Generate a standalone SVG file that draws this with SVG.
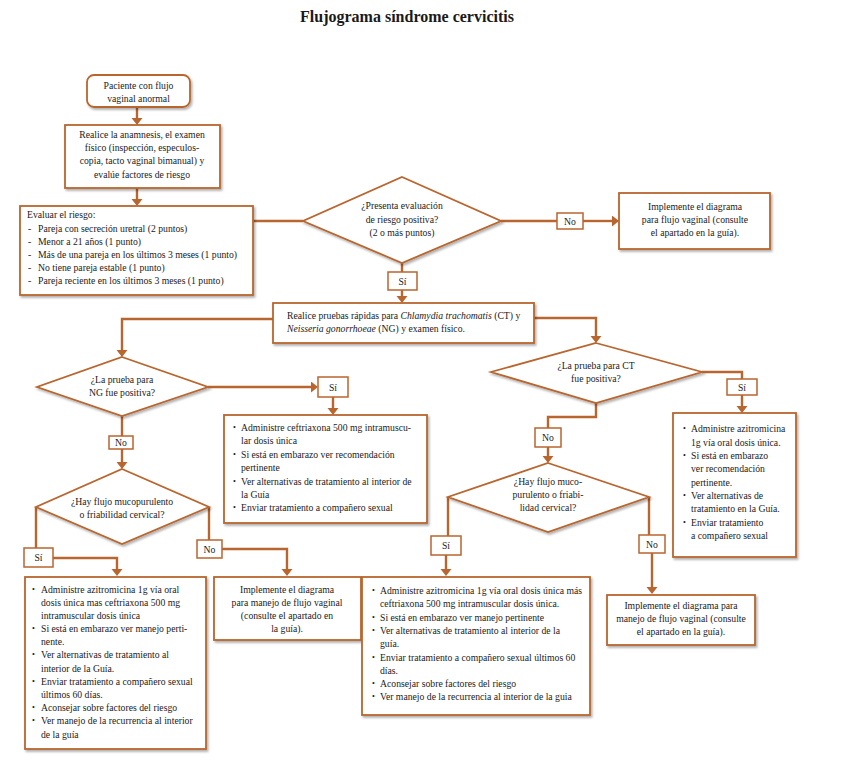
<svg xmlns="http://www.w3.org/2000/svg" width="841" height="777" viewBox="0 0 841 777">
<defs>
<style>
text{font-family:"Liberation Serif","Times New Roman",serif;font-size:9.7px;fill:#1a1a1a}
.t{font-size:16px;font-weight:bold}
.c{text-anchor:middle}
.box{fill:#fff;stroke:#B9652F;stroke-width:1.8}
.lbl{fill:#fff;stroke:#B9652F;stroke-width:1.5}
.conn path{fill:none;stroke:#B9652F;stroke-width:2.4}
.b{font-size:8px}
</style>
<marker id="ah" markerUnits="userSpaceOnUse" markerWidth="12" markerHeight="12" refX="2" refY="5.5" orient="auto">
<path d="M0,0 L7,5.5 L0,11 z" fill="#B9652F"/>
</marker>
<filter id="sh" x="-10%" y="-10%" width="125%" height="130%">
<feDropShadow dx="1.5" dy="2" stdDeviation="1.2" flood-color="#000" flood-opacity="0.3"/>
</filter>
</defs>
<rect width="841" height="777" fill="#fff"/>
<text class="t c" x="407" y="22">Flujograma síndrome cervicitis</text>

<g class="conn">
<path d="M137,107 V120" marker-end="url(#ah)"/>
<path d="M137,188 V201" marker-end="url(#ah)"/>
<path d="M253,221 H303"/>
<path d="M501,221 H557"/>
<path d="M583,221 H614" marker-end="url(#ah)"/>
<path d="M402,263 V272"/>
<path d="M402,290 V298" marker-end="url(#ah)"/>
<path d="M273,319 H122 V352" marker-end="url(#ah)"/>
<path d="M208,387 H313" marker-end="url(#ah)"/>
<path d="M333,397 V410" marker-end="url(#ah)"/>
<path d="M122,416 V436"/>
<path d="M122,449 V464" marker-end="url(#ah)"/>
<path d="M36,507 V548"/>
<path d="M53,558 H117 V571" marker-end="url(#ah)"/>
<path d="M209,507 V540"/>
<path d="M222,549 H287 V571" marker-end="url(#ah)"/>
<path d="M534,318 H596 V338" marker-end="url(#ah)"/>
<path d="M702,372 H742 V379"/>
<path d="M742,395 V408" marker-end="url(#ah)"/>
<path d="M596,403 V417 H548 V428"/>
<path d="M548,447 V458" marker-end="url(#ah)"/>
<path d="M448,497 V536"/>
<path d="M446,555 V571" marker-end="url(#ah)"/>
<path d="M649,497 V535"/>
<path d="M652,553 V589" marker-end="url(#ah)"/>
</g>

<g id="n1">
<rect class="box" x="87" y="75" width="103" height="32" rx="7" filter="url(#sh)"/>
<text class="c" x="138.5" y="89">Paciente con flujo</text>
<text class="c" x="138.5" y="102">vaginal anormal</text>
</g>

<g id="n2">
<rect class="box" x="65" y="125" width="155" height="63" filter="url(#sh)"/>
<text class="c" x="142" y="138">Realice la anamnesis, el examen</text>
<text class="c" x="142" y="151">físico (inspección, especulos-</text>
<text class="c" x="142" y="164">copia, tacto vaginal bimanual) y</text>
<text class="c" x="142" y="178">evalúe factores de riesgo</text>
</g>

<g id="n3">
<rect class="box" x="20" y="206" width="233" height="89" filter="url(#sh)"/>
<text x="27" y="218">Evaluar el riesgo:</text>
<text x="28" y="232">-</text><text x="38" y="232">Pareja con secreción uretral (2 puntos)</text>
<text x="28" y="245">-</text><text x="38" y="245">Menor a 21 años (1 punto)</text>
<text x="28" y="258">-</text><text x="38" y="258">Más de una pareja en los últimos 3 meses (1 punto)</text>
<text x="28" y="271">-</text><text x="38" y="271">No tiene pareja estable (1 punto)</text>
<text x="28" y="284">-</text><text x="38" y="284">Pareja reciente en los últimos 3 meses (1 punto)</text>
</g>

<g id="d1">
<polygon class="box" points="402,177 501,221 402,263 303,221" filter="url(#sh)"/>
<text class="c" x="402" y="209">¿Presenta evaluación</text>
<text class="c" x="402" y="223">de riesgo positiva?</text>
<text class="c" x="402" y="236">(2 o más puntos)</text>
</g>

<g id="l-no1">
<rect class="lbl" x="557" y="213" width="26" height="16"/>
<text class="c" x="570" y="225">No</text>
</g>

<g id="n4">
<rect class="box" x="619" y="193" width="151" height="56" filter="url(#sh)"/>
<text class="c" x="695" y="210">Implemente el diagrama</text>
<text class="c" x="695" y="223">para flujo vaginal (consulte</text>
<text class="c" x="695" y="236">el apartado en la guía).</text>
</g>

<g id="l-si1">
<rect class="lbl" x="388" y="272" width="29" height="18"/>
<text class="c" x="402.5" y="285">Sí</text>
</g>

<g id="n5">
<rect class="box" x="273" y="303" width="261" height="40" filter="url(#sh)"/>
<text x="287" y="319">Realice pruebas rápidas para <tspan font-style="italic">Chlamydia trachomatis</tspan> (CT) y</text>
<text x="287" y="332"><tspan font-style="italic">Neisseria gonorrhoeae</tspan> (NG) y examen físico.</text>
</g>

<g id="d2">
<polygon class="box" points="122,357 208,387 122,416 37,387" filter="url(#sh)"/>
<text class="c" x="122" y="383">¿La prueba para</text>
<text class="c" x="122" y="396">NG fue positiva?</text>
</g>

<g id="l-si2">
<rect class="lbl" x="318" y="377" width="30" height="20"/>
<text class="c" x="333" y="391">Sí</text>
</g>

<g id="n6">
<rect class="box" x="224" y="415" width="203" height="108" filter="url(#sh)"/>
<text class="b" x="233" y="430">•</text><text x="241" y="431">Administre ceftriaxona 500 mg intramuscu-</text>
<text x="241" y="444">lar dosis única</text>
<text class="b" x="233" y="457">•</text><text x="241" y="458">Si está en embarazo ver recomendación</text>
<text x="241" y="471">pertinente</text>
<text class="b" x="233" y="484">•</text><text x="241" y="485">Ver alternativas de tratamiento al interior de</text>
<text x="241" y="498">la Guía</text>
<text class="b" x="233" y="510">•</text><text x="241" y="511">Enviar tratamiento a compañero sexual</text>
</g>

<g id="l-no2">
<rect class="lbl" x="109" y="436" width="24" height="13"/>
<text class="c" x="121" y="446">No</text>
</g>

<g id="d3">
<polygon class="box" points="122,469 209,507 122,544 36,507" filter="url(#sh)"/>
<text class="c" x="122" y="505">¿Hay flujo mucopurulento</text>
<text class="c" x="122" y="518">o friabilidad cervical?</text>
</g>

<g id="l-si3">
<rect class="lbl" x="24" y="548" width="29" height="19"/>
<text class="c" x="38.5" y="561">Sí</text>
</g>

<g id="l-no3">
<rect class="lbl" x="197" y="540" width="25" height="18"/>
<text class="c" x="209.5" y="553">No</text>
</g>

<g id="n7">
<rect class="box" x="25" y="577" width="181" height="172" filter="url(#sh)"/>
<text class="b" x="32" y="592">•</text><text x="41" y="593">Administre azitromicina 1g vía oral</text>
<text x="41" y="606">dosis única mas ceftriaxona 500 mg</text>
<text x="41" y="619">intramuscular dosis única</text>
<text class="b" x="32" y="631">•</text><text x="41" y="632">Si está en embarazo ver manejo perti-</text>
<text x="41" y="645">nente.</text>
<text class="b" x="32" y="657">•</text><text x="41" y="658">Ver alternativas de tratamiento al</text>
<text x="41" y="672">interior de la Guía.</text>
<text class="b" x="32" y="684">•</text><text x="41" y="685">Enviar tratamiento a compañero sexual</text>
<text x="41" y="698">últimos 60 días.</text>
<text class="b" x="32" y="710">•</text><text x="41" y="711">Aconsejar sobre factores del riesgo</text>
<text class="b" x="32" y="723">•</text><text x="41" y="724">Ver manejo de la recurrencia al interior</text>
<text x="41" y="738">de la guía</text>
</g>

<g id="n8">
<rect class="box" x="214" y="577" width="147" height="63" filter="url(#sh)"/>
<text class="c" x="287" y="593">Implemente el diagrama</text>
<text class="c" x="287" y="606">para manejo de flujo vaginal</text>
<text class="c" x="287" y="619">(consulte el apartado en</text>
<text class="c" x="287" y="632">la guía).</text>
</g>

<g id="d4">
<polygon class="box" points="596,343 702,372 596,403 491,372" filter="url(#sh)"/>
<text class="c" x="596" y="369">¿La prueba para CT</text>
<text class="c" x="596" y="382">fue positiva?</text>
</g>

<g id="l-si4">
<rect class="lbl" x="727" y="379" width="30" height="16"/>
<text class="c" x="742" y="391">Sí</text>
</g>

<g id="n9">
<rect class="box" x="673" y="413" width="123" height="144" filter="url(#sh)"/>
<text class="b" x="683" y="431">•</text><text x="691" y="432">Administre azitromicina</text>
<text x="691" y="446">1g vía oral dosis única.</text>
<text class="b" x="683" y="458">•</text><text x="691" y="459">Si está en embarazo</text>
<text x="691" y="472">ver recomendación</text>
<text x="691" y="486">pertinente.</text>
<text class="b" x="683" y="498">•</text><text x="691" y="499">Ver alternativas de</text>
<text x="691" y="512">tratamiento en la Guía.</text>
<text class="b" x="683" y="525">•</text><text x="691" y="526">Enviar tratamiento</text>
<text x="691" y="539">a compañero sexual</text>
</g>

<g id="l-no4">
<rect class="lbl" x="535" y="428" width="26" height="19"/>
<text class="c" x="548" y="441">No</text>
</g>

<g id="d5">
<polygon class="box" points="548,463 649,497 548,532 448,497" filter="url(#sh)"/>
<text class="c" x="548" y="485">¿Hay flujo muco-</text>
<text class="c" x="548" y="498">purulento o friabi-</text>
<text class="c" x="548" y="511">lidad cervical?</text>
</g>

<g id="l-si5">
<rect class="lbl" x="431" y="536" width="30" height="19"/>
<text class="c" x="446" y="549">Sí</text>
</g>

<g id="l-no5">
<rect class="lbl" x="639" y="535" width="26" height="18"/>
<text class="c" x="652" y="548">No</text>
</g>

<g id="n10">
<rect class="box" x="362" y="577" width="228" height="138" filter="url(#sh)"/>
<text class="b" x="372" y="593">•</text><text x="380" y="594">Administre azitromicina 1g vía oral dosis única más</text>
<text x="380" y="607">ceftriaxona 500 mg intramuscular dosis única.</text>
<text class="b" x="372" y="620">•</text><text x="380" y="621">Si está en embarazo ver manejo pertinente</text>
<text class="b" x="372" y="633">•</text><text x="380" y="634">Ver alternativas de tratamiento al interior de la</text>
<text x="380" y="647">guía.</text>
<text class="b" x="372" y="660">•</text><text x="380" y="661">Enviar tratamiento a compañero sexual últimos 60</text>
<text x="380" y="674">días.</text>
<text class="b" x="372" y="686">•</text><text x="380" y="687">Aconsejar sobre factores del riesgo</text>
<text class="b" x="372" y="699">•</text><text x="380" y="700">Ver manejo de la recurrencia al interior de la guia</text>
</g>

<g id="n11">
<rect class="box" x="607" y="595" width="148" height="50" filter="url(#sh)"/>
<text class="c" x="681" y="609">Implemente el diagrama para</text>
<text class="c" x="681" y="622">manejo de flujo vaginal (consulte</text>
<text class="c" x="681" y="635">el apartado en la guía).</text>
</g>
</svg>
